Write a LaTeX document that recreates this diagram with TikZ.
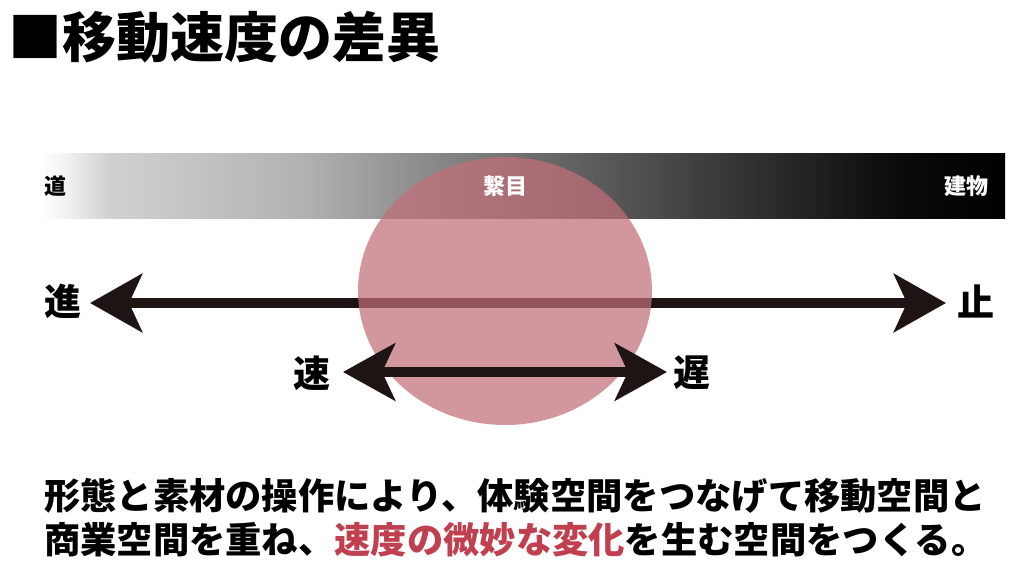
\documentclass[tikz,border=0pt]{standalone}
\usepackage{fontspec}
\newfontfamily\cjk{Noto Sans CJK JP}
\usetikzlibrary{arrows.meta}
\definecolor{blob}{RGB}{194,110,120}
\definecolor{redtext}{RGB}{192,64,80}
\definecolor{arrowblack}{RGB}{30,20,20}
\pgfdeclarehorizontalshading{barshade}{100bp}{color(0bp)=(white); color(25bp)=(white); color(26.5bp)=(black!6); color(28.5bp)=(black!18); color(38.5bp)=(black!30); color(46bp)=(black!48); color(59bp)=(black!75); color(69.5bp)=(black!96); color(75bp)=(black); color(100bp)=(black)}
\tikzset{
  lbl/.style={font=\cjk\bfseries\fontsize{37}{37}\selectfont, inner sep=0pt},
  barlbl/.style={font=\cjk\bfseries\fontsize{22}{22}\selectfont, inner sep=0pt},
  bigarrow/.style={arrowblack, line width=10pt, {Stealth[length=52pt,width=58pt,inset=13pt]}-{Stealth[length=52pt,width=58pt,inset=13pt]}},
  smallarrow/.style={arrowblack, line width=10pt, {Stealth[length=52pt,width=57pt,inset=13pt]}-{Stealth[length=52pt,width=57pt,inset=13pt]}},
}
\begin{document}
\begin{tikzpicture}[x=1pt,y=-1pt]
\useasboundingbox (0,0) rectangle (1018,585);
\fill[white] (0,0) rectangle (1018,585);
% title
\node[anchor=west, inner sep=0pt, font=\cjk\bfseries\fontsize{54}{54}\selectfont] (title) at (8,37) {■移動速度の差異};
% gradient bar
\node[draw=none, shading=barshade, minimum width=965pt, minimum height=65pt, inner sep=0pt, anchor=north west] (bar) at (40,153) {};
% long arrow
\coordinate (Lend) at (90,303);
\coordinate (Rend) at (946,303);
\draw[bigarrow] (Lend) -- (Rend);
% circle
\fill[blob, opacity=0.72] (505,291) ellipse [x radius=147, y radius=134];
% bar labels
\node[barlbl, text=black] (michi) at (56,186) {道};
\node[barlbl, text=white] (tsunagime) at (505,186) {繋目};
\node[barlbl, text=white] (tatemono) at (966,186) {建物};
% short arrow
\coordinate (sL) at (343,372);
\coordinate (sR) at (667,372);
\draw[smallarrow] (sL) -- (sR);
% labels
\node[lbl] (susumu) at (63,301) {進};
\node[lbl] (tomaru) at (976,301) {止};
\node[lbl] (hayai) at (312,373) {速};
\node[lbl] (osoi) at (692,373) {遅};
% bottom text
\node[anchor=west, inner sep=0pt, align=left, font=\cjk\bfseries\fontsize{36.3}{44}\selectfont] (desc) at (44,518) {形態と素材の操作により、体験空間をつなげて移動空間と\\商業空間を重ね、\textcolor{redtext}{速度の微妙な変化}を生む空間をつくる。};
\end{tikzpicture}
\end{document}
